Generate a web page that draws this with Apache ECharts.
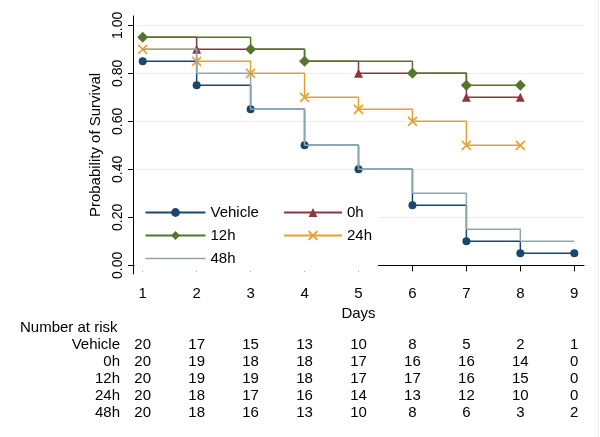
<!DOCTYPE html>
<html><head><meta charset="utf-8">
<script src="https://cdn.jsdelivr.net/npm/echarts@6/dist/echarts.min.js"></script>
<style>html,body{margin:0;padding:0;background:#fff}#c{width:600px;height:437px}</style>
</head><body><div id="c"></div>
<script>
const days = [1, 2, 3, 4, 5, 6, 7, 8, 9];
const yTicks = [0, 0.2, 0.4, 0.6, 0.8, 1.0];
const seriesNames = ['Vehicle', '0h', '12h', '24h', '48h'];
const vehicle = [0.85, 0.75, 0.65, 0.50, 0.40, 0.25, 0.10, 0.05, 0.05];
const h0 = [0.95, 0.90, 0.90, 0.85, 0.80, 0.80, 0.70, 0.70];
const h12 = [0.95, 0.95, 0.90, 0.85, 0.85, 0.80, 0.75, 0.75];
const h24 = [0.90, 0.85, 0.80, 0.70, 0.65, 0.60, 0.50, 0.50];
const h48 = [0.90, 0.80, 0.65, 0.50, 0.40, 0.30, 0.15, 0.10, 0.10];
// 1 = marker drawn at that day
const vehicleMarks = [1, 1, 1, 1, 1, 1, 1, 1, 1];
const h0Marks = [0, 1, 0, 0, 1, 0, 1, 1];
const h12Marks = [1, 0, 1, 1, 0, 1, 1, 1];
const h24Marks = [1, 1, 1, 1, 1, 1, 1, 1];
const h48Marks = [0, 0, 0, 0, 0, 0, 0, 0, 0];
const riskTitle = 'Number at risk';
const riskVehicle = [20, 17, 15, 13, 10, 8, 5, 2, 1];
const risk0h = [20, 19, 18, 18, 17, 16, 16, 14, 0];
const risk12h = [20, 19, 19, 18, 17, 17, 16, 15, 0];
const risk24h = [20, 18, 17, 16, 14, 13, 12, 10, 0];
const risk48h = [20, 18, 16, 13, 10, 8, 6, 3, 2];

const FONT = '"Liberation Sans", Arial, sans-serif';
const colors = ['#1a476f', '#90353b', '#55752f', '#e5a035', '#8fa7b0'];
const xPath = 'path://M0,0L10,10M10,0L0,10';
const symbols = ['circle', 'triangle', 'diamond', xPath, 'none'];
const sizes = [8, 9, 11, 9, 0];
const values = [vehicle, h0, h12, h24, h48];
const marks = [vehicleMarks, h0Marks, h12Marks, h24Marks, h48Marks];
const risks = [riskVehicle, risk0h, risk12h, risk24h, risk48h];

const chart = echarts.init(document.getElementById('c'), null, {renderer: 'canvas'});

const series = seriesNames.map((name, i) => ({
  name: name,
  type: 'line',
  step: 'end',
  symbol: symbols[i],
  symbolSize: sizes[i],
  showSymbol: true,
  animation: false,
  color: colors[i],
  lineStyle: {color: colors[i], width: 1.5},
  itemStyle: i === 3
    ? {color: colors[i], borderColor: colors[i], borderWidth: 1.6}
    : {color: colors[i], borderWidth: 0},
  emphasis: {disabled: true},
  z: 2 + i,
  data: values[i].map((v, k) => (
    marks[i][k] ? {value: [days[k], v]} : {value: [days[k], v], symbol: 'none'}
  ))
}));

const legendText = {color: '#000', fontSize: 15, fontFamily: FONT};
chart.setOption({
  backgroundColor: '#fff',
  animation: false,
  grid: {left: 133, right: 16, top: 16, bottom: 163, containLabel: false},
  xAxis: {
    type: 'value', min: 0.82, max: 9.18,
    name: 'Days', nameLocation: 'middle', nameGap: 25,
    nameTextStyle: {color: '#000', fontSize: 15, fontFamily: FONT},
    axisLine: {show: true, lineStyle: {color: '#000', width: 1}},
    axisTick: {show: true, length: 6, lineStyle: {color: '#000'}, customValues: days},
    axisLabel: {color: '#000', fontSize: 15, fontFamily: FONT, margin: 12, customValues: days,
      formatter: v => String(v)},
    splitLine: {show: false}
  },
  yAxis: {
    type: 'value', min: -0.036, max: 1.039,
    name: 'Probability of Survival', nameLocation: 'middle', nameGap: 30, nameRotate: 90,
    nameTextStyle: {color: '#000', fontSize: 15, fontFamily: FONT},
    axisLine: {show: true, lineStyle: {color: '#000', width: 1}},
    axisTick: {show: true, length: 5, lineStyle: {color: '#000'}, customValues: yTicks},
    axisLabel: {color: '#000', fontSize: 14, fontFamily: FONT, rotate: 90, margin: 8,
      customValues: yTicks, formatter: v => v.toFixed(2)},
    splitLine: {show: true, lineStyle: {color: '#ececec', width: 1}}
  },
  legend: [
    {data: ['Vehicle', '12h', {name: '48h', icon: 'path://M0,0H60V1.5H0Z'}],
     orient: 'vertical', left: 134.5, top: 197,
     itemWidth: 60, itemHeight: 11, itemGap: 8, padding: [8, 8, 5, 10],
     backgroundColor: '#fff', selectedMode: false, textStyle: legendText},
    {data: ['0h', '24h'], orient: 'vertical', left: 262, top: 197,
     itemWidth: 58, itemHeight: 11, itemGap: 8, padding: [8, 6, 28, 21],
     backgroundColor: '#fff', selectedMode: false, textStyle: legendText}
  ],
  series: series
});

// Number at risk table
const g = [];
g.push({type: 'text', left: 20, top: 320, style: {text: riskTitle, fill: '#000', font: '15px ' + FONT}});
const rowY0 = 345, rowDy = 17;
seriesNames.forEach((name, r) => {
  const y = rowY0 + r * rowDy;
  g.push({type: 'text', x: 120, y: y, style: {text: name, fill: '#000', font: '15px ' + FONT, align: 'right', verticalAlign: 'middle'}});
  risks[r].forEach((n, k) => {
    const x = chart.convertToPixel({xAxisIndex: 0}, days[k]);
    g.push({type: 'text', x: x, y: y, style: {text: String(n), fill: '#000', font: '15px ' + FONT, align: 'center', verticalAlign: 'middle'}});
  });
});
g.push({type: 'line', shape: {x1: 598.5, y1: 0, x2: 598.5, y2: 437}, style: {stroke: '#eeeeee', lineWidth: 1}});
chart.setOption({graphic: g});
</script>
</body></html>
